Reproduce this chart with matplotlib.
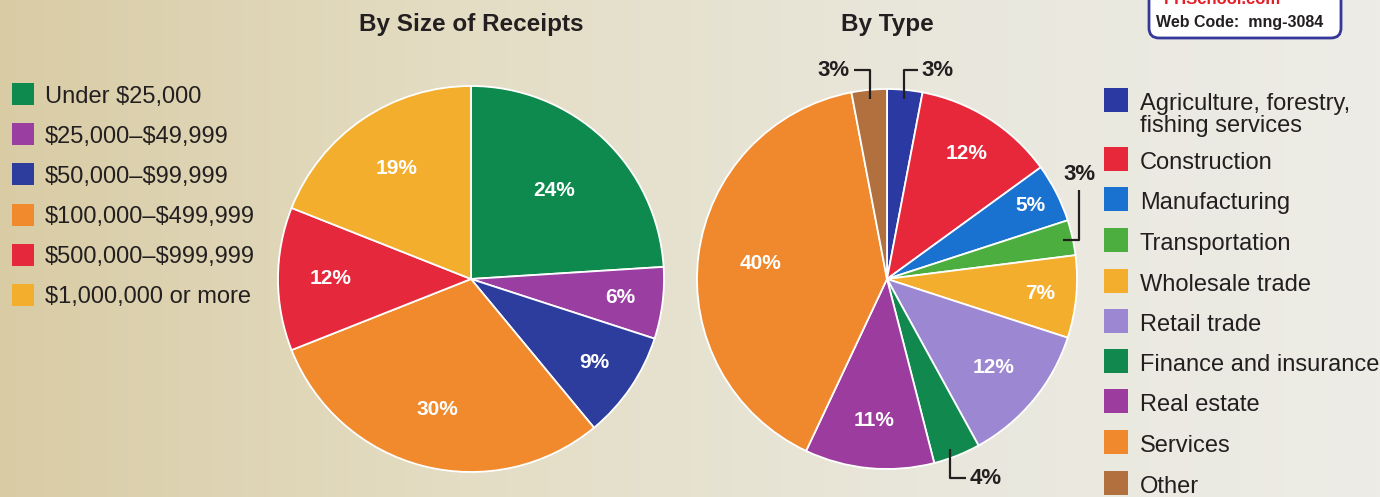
import numpy as np
import matplotlib
matplotlib.use("Agg")
import matplotlib.pyplot as plt
from matplotlib.colors import LinearSegmentedColormap
from matplotlib.patches import Rectangle, FancyBboxPatch

# ── data ──
size_title = "By Size of Receipts"
size_labels = ["Under $25,000", "$25,000\u2013$49,999", "$50,000\u2013$99,999",
               "$100,000\u2013$499,999", "$500,000\u2013$999,999", "$1,000,000 or more"]
size_values = [24, 6, 9, 30, 12, 19]
size_colors = ["#0f8a4f", "#9a3ea2", "#2c3d9e", "#f08a2c", "#e6283d", "#f2ae2c"]

type_title = "By Type"
type_labels = ["Agriculture, forestry,\nfishing services", "Construction", "Manufacturing",
               "Transportation", "Wholesale trade", "Retail trade",
               "Finance and insurance", "Real estate", "Services", "Other"]
type_values = [3, 12, 5, 3, 7, 12, 4, 11, 40, 3]
type_colors = ["#2b3aa2", "#e6283a", "#1a72d0", "#4cae3e", "#f3ae2e", "#9c88d2",
               "#10884e", "#9c3c9e", "#f0892e", "#b2703e"]

W, H = 1380, 497
FONT = ["Liberation Sans", "DejaVu Sans"]

fig = plt.figure(figsize=(W / 100, H / 100), dpi=100)
ax = fig.add_axes([0, 0, 1, 1])

# ── scanned-paper background ──
bg = LinearSegmentedColormap.from_list(
    "paper", ["#d9cca5", "#e4ddc4", "#e9e7dc", "#edece6"])
ax.imshow(np.linspace(0, 1, 256)[None, :], cmap=bg, aspect="auto",
          extent=[0, W, 0, H], zorder=0)


def draw_pie(values, colors, center, radius, label_dist, skip):
    wedges, _ = ax.pie(values, colors=colors, center=center, radius=radius,
                       startangle=90, counterclock=False,
                       wedgeprops=dict(edgecolor="white", linewidth=1.3))
    for i, (w, v) in enumerate(zip(wedges, values)):
        w.set_zorder(2)
        if i in skip:
            continue
        a = np.deg2rad((w.theta1 + w.theta2) / 2)
        r = radius * label_dist[i]
        ax.text(center[0] + r * np.cos(a), center[1] + r * np.sin(a), f"{v}%",
                color="white", fontsize=15, fontweight="bold", family=FONT,
                ha="center", va="center", zorder=3)
    return wedges


# ── left pie ──
c1, r1 = (471, H - 279), 193
draw_pie(size_values, size_colors, c1, r1, [0.63, 0.78, 0.77, 0.70, 0.73, 0.69], [])
ax.text(c1[0], H - 25, size_title, fontsize=17.5, fontweight="bold",
        family=FONT, ha="center", va="center", color="#231f20")

# ── right pie ──
c2, r2 = (887, H - 279), 190
w2 = draw_pie(type_values, type_colors, c2, r2,
              [0, 0.78, 0.85, 0, 0.81, 0.73, 0, 0.75, 0.67, 0], [0, 3, 6, 9])
ax.text(c2[0], H - 25, type_title, fontsize=17.5, fontweight="bold",
        family=FONT, ha="center", va="center", color="#231f20")


def edge_point(w, rr):
    a = np.deg2rad((w.theta1 + w.theta2) / 2)
    return c2[0] + r2 * rr * np.cos(a), c2[1] + r2 * rr * np.sin(a)


line_kw = dict(color="#231f20", lw=1.6, zorder=4, solid_capstyle="butt")
txt_kw = dict(fontsize=16, fontweight="bold", family=FONT, color="#231f20", zorder=4)

# Other (top)
x, y = edge_point(w2[9], 0.95)
ax.plot([x - 16, x, x], [H - 70, H - 70, y], **line_kw)
ax.text(x - 20, H - 70, f"{type_values[9]}%", ha="right", va="center", **txt_kw)
# Agriculture (top)
x, y = edge_point(w2[0], 0.95)
ax.plot([x, x, x + 14], [y, H - 70, H - 70], **line_kw)
ax.text(x + 17, H - 70, f"{type_values[0]}%", ha="left", va="center", **txt_kw)
# Transportation (right)
x, y = edge_point(w2[3], 0.95)
ax.plot([x, x + 16, x + 16], [y, y, H - 190], **line_kw)
ax.text(x + 16, H - 174, f"{type_values[3]}%", ha="center", va="center", **txt_kw)
# Finance (bottom)
x, y = edge_point(w2[6], 0.96)
ax.plot([x - 4, x - 4, x + 12], [y, H - 478, H - 478], **line_kw)
ax.text(x + 15, H - 478, f"{type_values[6]}%", ha="left", va="center", **txt_kw)

# ── left legend ──
for i, (lab, col) in enumerate(zip(size_labels, size_colors)):
    yc = H - (94 + 40.2 * i)
    ax.add_patch(Rectangle((12, yc - 11), 22, 22, facecolor=col, edgecolor="none", zorder=3))
    ax.text(45, yc, lab, fontsize=17, family=FONT, color="#231f20", parse_math=False,
            ha="left", va="center_baseline", zorder=3)

# ── right legend ──
row_y = [100, 159, 199, 240, 281, 321, 361, 401, 442, 483]
for lab, col, yy in zip(type_labels, type_colors, row_y):
    yc = H - yy
    ax.add_patch(Rectangle((1104, yc - 12), 24, 24, facecolor=col, edgecolor="none", zorder=3))
    ax.text(1140, yc + 7, lab, fontsize=17, family=FONT, color="#231f20",
            ha="left", va="top", linespacing=1.0, zorder=3)

# ── web code box ──
ax.add_patch(FancyBboxPatch((1149, H - 38), 192, 60,
                            boxstyle="round,pad=0,rounding_size=10",
                            facecolor="white", edgecolor="#35379a", lw=2, zorder=3))
ax.text(1222, H + 1, "PHSchool.com", fontsize=12, fontweight="bold", family=FONT,
        color="#e41e26", ha="center", va="center", zorder=4)
ax.text(1240, H - 22, "Web Code:  mng-3084", fontsize=11.5, fontweight="bold",
        family=FONT, color="#231f20", ha="center", va="center", zorder=4)

ax.set_xlim(0, W)
ax.set_ylim(0, H)
ax.set_aspect("auto")
ax.axis("off")

fig.savefig("out.png", dpi=100)
plt.close(fig)
